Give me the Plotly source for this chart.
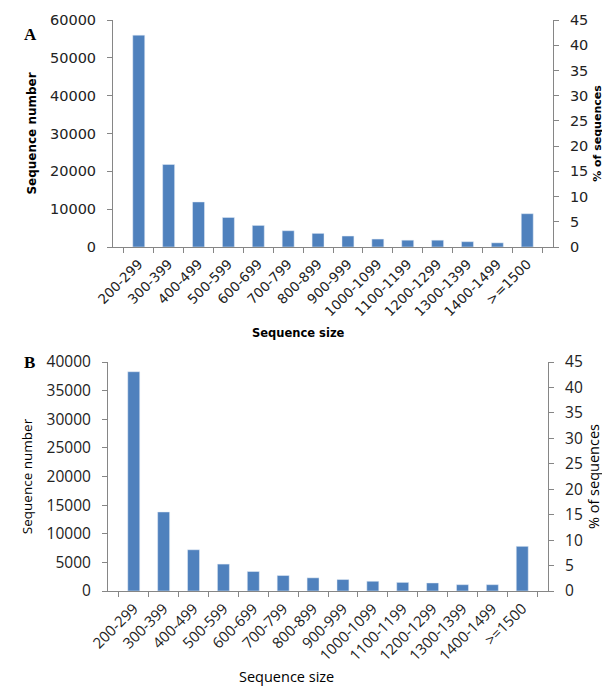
import plotly.graph_objects as go

categories = ["200-299", "300-399", "400-499", "500-599", "600-699", "700-799", "800-899",
              "900-999", "1000-1099", "1100-1199", "1200-1299", "1300-1399", "1400-1499", ">=1500"]
counts_a = [56000, 21800, 11900, 7800, 5700, 4300, 3600, 2900, 2100, 1800, 1800, 1400, 1100, 8800]
counts_b = [38300, 13800, 7200, 4700, 3400, 2700, 2300, 2000, 1700, 1500, 1400, 1100, 1100, 7800]
pct_a = [c / sum(counts_a) * 100 for c in counts_a]
pct_b = [c / sum(counts_b) * 100 for c in counts_b]
left_ticks_a = [0, 10000, 20000, 30000, 40000, 50000, 60000]
left_ticks_b = [0, 5000, 10000, 15000, 20000, 25000, 30000, 35000, 40000]
pct_ticks = [0, 5, 10, 15, 20, 25, 30, 35, 40, 45]

W, H = 610, 695
BAR = "#4F81BD"
AX = "#868686"

def px(x):
    return x / W

def py(y):
    return 1 - y / H

fig = go.Figure()
fig.add_trace(go.Bar(x=categories, y=counts_a, marker_color=BAR, width=0.4,
                     xaxis="x", yaxis="y", showlegend=False))
fig.add_trace(go.Scatter(x=categories, y=pct_a, mode="markers", marker=dict(opacity=0),
                         xaxis="x", yaxis="y2", showlegend=False, hoverinfo="skip"))
fig.add_trace(go.Bar(x=categories, y=counts_b, marker_color=BAR, width=0.4,
                     xaxis="x2", yaxis="y3", showlegend=False))
fig.add_trace(go.Scatter(x=categories, y=pct_b, mode="markers", marker=dict(opacity=0),
                         xaxis="x2", yaxis="y4", showlegend=False, hoverinfo="skip"))

fontA = dict(family="DejaVu Sans", size=14.5, color="#222222")
fontAx = dict(family="DejaVu Sans", size=13.5, color="#222222")
fontB = dict(family="Open Sans", size=15.5, color="#222222")
fontBx = dict(family="Open Sans", size=15, color="#222222")

xcommon = dict(type="category", showline=True, linecolor=AX, linewidth=1, ticks="outside",
               tickson="boundaries", ticklen=5, tickcolor=AX, tickangle=-45,
               showgrid=False, zeroline=False, automargin=False)
ycommon = dict(showline=True, linecolor=AX, linewidth=1, ticks="outside", ticklen=5,
               tickcolor=AX, showgrid=False, zeroline=False, automargin=False,
               tickformat="d", ticklabelstandoff=8)

fig.update_layout(
    width=W, height=H, margin=dict(l=0, r=0, t=0, b=0),
    paper_bgcolor="white", plot_bgcolor="white", bargap=0.6,
    xaxis=dict(xcommon, domain=[px(105), px(545)], anchor="y", tickfont=fontAx,
               ticklabelstandoff=3),
    yaxis=dict(ycommon, domain=[py(239), py(12)], range=[0, 60000], tickvals=left_ticks_a,
               tickfont=fontA, anchor="x",
               title=dict(text="<b>Sequence number</b>", standoff=10,
                          font=dict(family="DejaVu Sans", size=12, color="black"))),
    yaxis2=dict(ycommon, overlaying="y", side="right", anchor="x", range=[0, 45],
                tickvals=pct_ticks, tickfont=fontA,
                title=dict(text="<b>% of sequences</b>", standoff=5,
                           font=dict(family="DejaVu Sans", size=11, color="black"))),
    xaxis2=dict(xcommon, domain=[px(100), px(540)], anchor="y3", tickfont=fontBx,
                ticklabelstandoff=2),
    yaxis3=dict(ycommon, domain=[py(583), py(354)], range=[0, 40000], tickvals=left_ticks_b,
                tickfont=fontB, anchor="x2",
                title=dict(text="Sequence number", standoff=10,
                           font=dict(family="Open Sans", size=13.5, color="black"))),
    yaxis4=dict(ycommon, overlaying="y3", side="right", anchor="x2", range=[0, 45],
                tickvals=pct_ticks, tickfont=fontB,
                title=dict(text="% of sequences", standoff=6,
                           font=dict(family="Open Sans", size=14.5, color="black"))),
    annotations=[
        dict(text="<b>A</b>", x=px(14), y=py(15), xref="paper", yref="paper",
             showarrow=False, font=dict(family="Liberation Serif", size=17, color="black")),
        dict(text="<b>B</b>", x=px(14), y=py(354), xref="paper", yref="paper",
             showarrow=False, font=dict(family="Liberation Serif", size=17, color="black")),
        dict(text="<b>Sequence size</b>", x=px(290), y=py(325), xref="paper", yref="paper",
             showarrow=False, font=dict(family="DejaVu Sans", size=11.5, color="black")),
        dict(text="Sequence size", x=px(278), y=py(680), xref="paper", yref="paper",
             showarrow=False, font=dict(family="Open Sans", size=14.5, color="black")),
    ],
)

fig.write_html("out.html")
